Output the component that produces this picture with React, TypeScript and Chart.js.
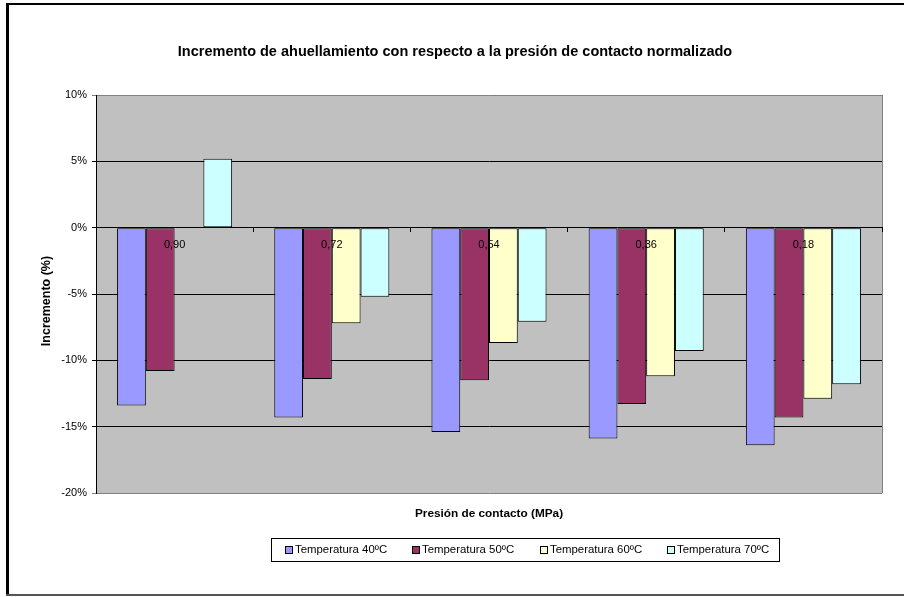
import React, { useEffect, useRef } from "react";
import { Chart, registerables } from "chart.js";

Chart.register(...registerables);

// Contact pressure (MPa) categories
const categories: string[] = ["0,90", "0,72", "0,54", "0,36", "0,18"];

// Rutting increment (%) per temperature
const temp40: (number | null)[] = [-13.4, -14.3, -15.4, -15.9, -16.4];
const temp50: (number | null)[] = [-10.8, -11.4, -11.5, -13.3, -14.3];
const temp60: (number | null)[] = [null, -7.2, -8.7, -11.2, -12.9];
const temp70: (number | null)[] = [5.2, -5.2, -7.1, -9.3, -11.8];

const seriesLabels: string[] = [
  "Temperatura 40ºC",
  "Temperatura 50ºC",
  "Temperatura 60ºC",
  "Temperatura 70ºC",
];
const seriesColors: string[] = ["#9999FF", "#993366", "#FFFFCC", "#CCFFFF"];

const yTicks = { min: -20, max: 10, step: 5 };

const chartTitle =
  "Incremento de ahuellamiento con respecto a la presión de contacto normalizado";
const yTitle = "Incremento (%)";
const xTitle = "Presión de contacto (MPa)";

const FONT = "'Liberation Sans', Arial, sans-serif";

const decorations = {
  id: "decorations",
  beforeDraw(chart: any) {
    const { ctx, chartArea: a, width, height } = chart;
    ctx.save();
    ctx.fillStyle = "#ffffff";
    ctx.fillRect(0, 0, width, height);
    // plot area fill
    ctx.fillStyle = "#C0C0C0";
    ctx.fillRect(a.left, a.top, a.right - a.left, a.bottom - a.top);
    ctx.restore();
  },
  beforeDatasetsDraw(chart: any) {
    const { ctx, chartArea: a } = chart;
    ctx.save();
    ctx.strokeStyle = "#808080";
    ctx.lineWidth = 1;
    ctx.beginPath();
    ctx.moveTo(Math.round(a.right) + 0.5, a.top);
    ctx.lineTo(Math.round(a.right) + 0.5, a.bottom);
    ctx.stroke();
    ctx.restore();
  },
  afterDraw(chart: any) {
    const { ctx, chartArea: a } = chart;
    ctx.save();

    // chart title
    ctx.fillStyle = "#000";
    ctx.font = `bold 14.5px ${FONT}`;
    ctx.textAlign = "center";
    ctx.textBaseline = "middle";
    ctx.fillText(chartTitle, 455, 52);

    // x-axis title
    ctx.font = `bold 11.8px ${FONT}`;
    ctx.fillText(xTitle, (a.left + a.right) / 2, 514);

    // y-axis title
    ctx.save();
    ctx.translate(47, 301);
    ctx.rotate(-Math.PI / 2);
    ctx.font = `bold 12.5px ${FONT}`;
    ctx.fillText(yTitle, 0, 0);
    ctx.restore();

    // legend box
    const lx = 271, ly = 538, lw = 508, lh = 23;
    ctx.strokeStyle = "#000";
    ctx.lineWidth = 1;
    ctx.strokeRect(lx + 0.5, ly + 0.5, lw, lh);
    ctx.font = `11.4px ${FONT}`;
    ctx.textAlign = "left";
    const cy = ly + lh / 2 + 0.5;
    chart.data.datasets.forEach((ds: any, i: number) => {
      const sx = 285 + i * 127.4;
      ctx.fillStyle = ds.backgroundColor;
      ctx.fillRect(Math.round(sx) + 0.5, Math.round(cy - 4) + 0.5, 7, 7);
      ctx.strokeStyle = "#000";
      ctx.strokeRect(Math.round(sx) + 0.5, Math.round(cy - 4) + 0.5, 7, 7);
      ctx.fillStyle = "#000";
      ctx.fillText(ds.label, Math.round(sx) + 10, cy);
    });

    // outer frame
    ctx.fillStyle = "#000";
    ctx.fillRect(6, 3, 3, 592);
    ctx.fillRect(6, 3, 898, 2);
    ctx.fillStyle = "#555";
    ctx.fillRect(6, 594, 898, 2);
    ctx.restore();
  },
};

export default function App() {
  const canvasRef = useRef<HTMLCanvasElement | null>(null);

  useEffect(() => {
    if (!canvasRef.current) return;
    const seriesData = [temp40, temp50, temp60, temp70];
    const chart = new Chart(canvasRef.current, {
      type: "bar",
      data: {
        labels: categories,
        datasets: seriesData.map((d, i) => ({
          label: seriesLabels[i],
          data: d,
          backgroundColor: seriesColors[i],
          borderColor: "#000000",
          borderWidth: 1,
          borderSkipped: false,
          categoryPercentage: 0.732,
          barPercentage: 1,
        })),
      },
      options: {
        responsive: false,
        animation: false,
        devicePixelRatio: 1,
        layout: { padding: { left: 0, right: 22, top: 95, bottom: 104 } },
        plugins: {
          legend: { display: false },
          tooltip: { enabled: false },
          title: { display: false },
        },
        scales: {
          x: {
            type: "category",
            position: { y: 0 },
            offset: true,
            grid: {
              display: true,
              drawOnChartArea: false,
              drawTicks: true,
              tickLength: 4,
              color: "#000",
              offset: true,
              z: 1,
            },
            border: { display: true, color: "#000", width: 1, z: 1 },
            ticks: {
              color: "#000",
              font: { family: FONT, size: 11 },
              padding: 7,
              maxRotation: 0,
              autoSkip: false,
              z: 2,
            },
          },
          y: {
            type: "linear",
            position: "left",
            min: yTicks.min,
            max: yTicks.max,
            afterFit: (s: any) => {
              s.width = 96;
            },
            grid: {
              color: (c: any) =>
                c.tick && (c.tick.value === yTicks.max || c.tick.value === yTicks.min)
                  ? "#808080"
                  : "#000000",
              lineWidth: 1,
              tickLength: 4,
            },
            border: { display: true, color: "#000", width: 1 },
            ticks: {
              stepSize: yTicks.step,
              color: "#000",
              padding: 5,
              font: { family: FONT, size: 11 },
              callback: (v: any) => `${v}%`,
            },
            title: { display: false },
          },
        },
      },
      plugins: [decorations],
    } as any);
    return () => chart.destroy();
  }, []);

  return (
    <div style={{ position: "absolute", left: 0, top: 0, width: 904, height: 597 }}>
      <canvas ref={canvasRef} width={904} height={597} />
    </div>
  );
}
